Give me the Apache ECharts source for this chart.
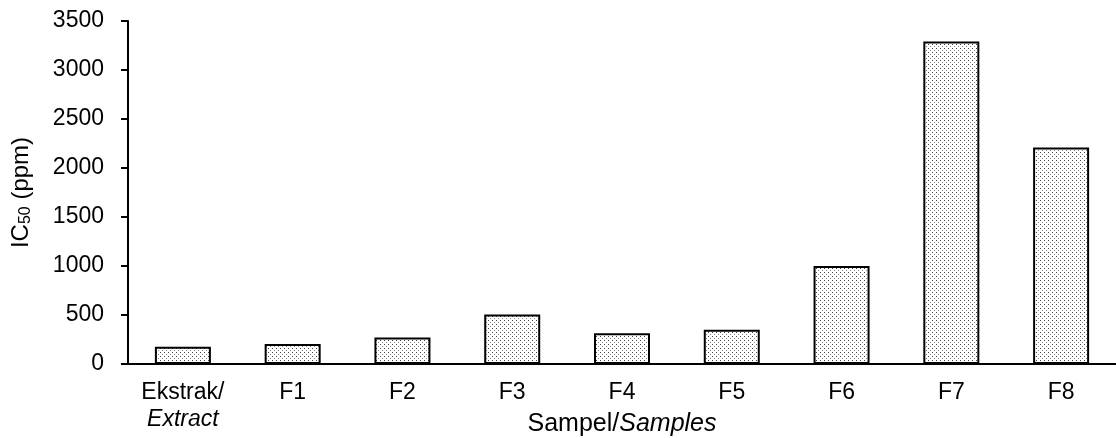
<!DOCTYPE html>
<html>
<head>
<meta charset="utf-8">
<script src="https://cdn.jsdelivr.net/npm/echarts@6/dist/echarts.min.js"></script>
<style>
html, body { margin: 0; padding: 0; background: #fff; }
#chart { width: 1116px; height: 438px; }
</style>
</head>
<body>
<div id="chart"></div>
<script>
var categories = ['Ekstrak/\n{i|Extract}', 'F1', 'F2', 'F3', 'F4', 'F5', 'F6', 'F7', 'F8'];
var ic50Values = [175, 205, 270, 505, 315, 350, 1000, 3290, 2210];
var yTicks = { min: 0, max: 3500, step: 500 };

var FONT = 'Arial, "Liberation Sans", sans-serif';

// dotted fill like the original bars
function makeDots(){
	var c = document.createElement('canvas');
	c.width = 4;
	c.height = 4;
	var ctx = c.getContext('2d');
	ctx.fillStyle = '#fff';
	ctx.fillRect(0, 0, 4, 4);
	ctx.fillStyle = '#444';
	ctx.fillRect(0, 0, 1, 1);
	ctx.fillStyle = '#888';
	ctx.fillRect(2, 2, 1, 1);
	return c;
}

var chart = echarts.init(document.getElementById('chart'), null, { renderer: 'canvas' });

var options = {
	animation: false,
	backgroundColor: '#fff',
	grid: { left: 128, right: 0, top: 21, bottom: 74, containLabel: false, outerBoundsMode: 'none' },
	xAxis: {
		type: 'category',
		data: categories,
		name: '{n|Sampel/}{i|Samples}',
		nameLocation: 'middle',
		nameGap: 48,
		nameMoveOverlap: false,
		nameTextStyle: {
			rich: {
				n: { fontFamily: FONT, fontSize: 25, color: '#000' },
				i: { fontFamily: FONT, fontSize: 25, color: '#000', fontStyle: 'italic' }
			}
		},
		axisLine: { lineStyle: { color: '#000', width: 2 } },
		axisTick: { alignWithLabel: true, length: 7, lineStyle: { color: '#000', width: 2 } },
		axisLabel: {
			interval: 0,
			color: '#000',
			fontFamily: FONT,
			fontSize: 23,
			lineHeight: 27,
			margin: 15,
			verticalAlign: 'top',
			rich: {
				i: { fontFamily: FONT, fontSize: 23, fontStyle: 'italic', color: '#000', lineHeight: 27 }
			}
		}
	},
	yAxis: {
		type: 'value',
		min: yTicks.min,
		max: yTicks.max,
		interval: yTicks.step,
		name: '{a|IC}{s|50}{a| (ppm)}',
		nameLocation: 'middle',
		nameGap: 94,
		nameRotate: 90,
		nameTextStyle: {
			rich: {
				a: { fontFamily: FONT, fontSize: 24, color: '#000', lineHeight: 26 },
				s: { fontFamily: FONT, fontSize: 16, color: '#000', lineHeight: 26, padding: [9, 0, 0, 0] }
			}
		},
		splitLine: { show: false },
		axisLine: { show: true, lineStyle: { color: '#000', width: 2 } },
		axisTick: { show: true, length: 7, lineStyle: { color: '#000', width: 2 } },
		axisLabel: {
			color: '#000', fontFamily: FONT, fontSize: 23, margin: 24,
			formatter: function (v) { return String(v); }
		}
	},
	series: [{
		type: 'bar',
		data: ic50Values,
		barWidth: 56,
		itemStyle: {
			color: { image: makeDots(), repeat: 'repeat' },
			borderColor: '#000',
			borderWidth: 2
		}
	}]
};

chart.setOption(options);
</script>
</body>
</html>
